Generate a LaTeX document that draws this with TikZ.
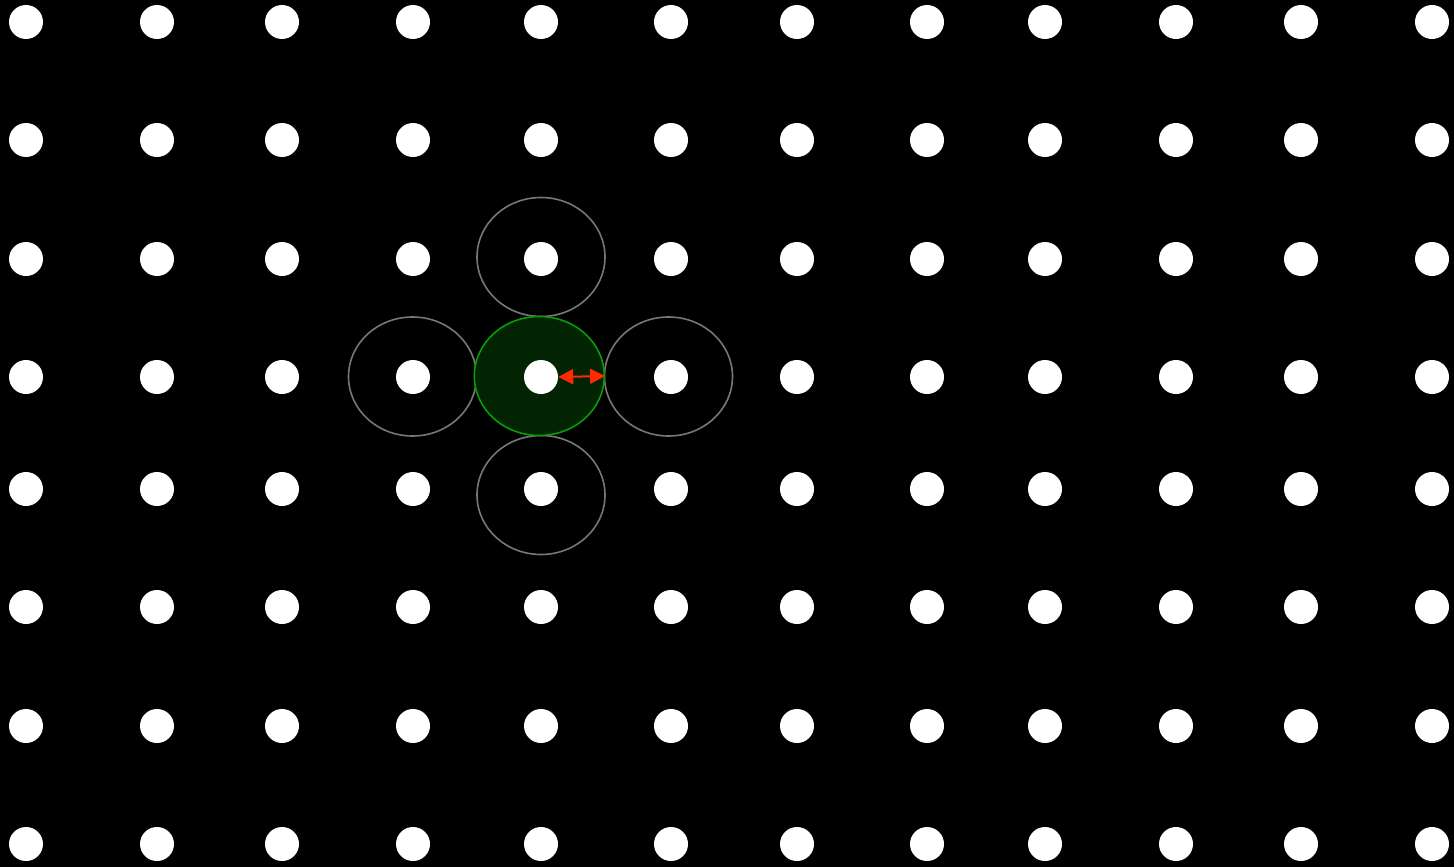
\documentclass[tikz,border=0pt]{standalone}
\usepackage{xcolor}
\usepackage{tikz}
\usetikzlibrary{arrows.meta,positioning,shapes.geometric,calc}
\definecolor{ringgray}{HTML}{777777}
\definecolor{ringgreen}{HTML}{0A9A0A}
\definecolor{cellfill}{HTML}{022402}
\definecolor{gapred}{HTML}{FF2A00}

\begin{document}
\begin{tikzpicture}[
          x=1pt, y=-1pt,
          dot/.style={circle, fill=white, minimum size=34pt, inner sep=0pt},
          ring/.style={ellipse, draw=ringgray, line width=1.6pt,
                       minimum width=128pt, minimum height=119pt, inner sep=0pt},
          cell/.style={ring, draw=ringgreen, fill=cellfill, minimum width=130pt},
          gap/.style={{Triangle[length=15pt,width=15pt]}-{Triangle[length=15pt,width=15pt]},
                      draw=gapred, fill=gapred, line width=2pt}
      ]
        \fill[black] (0,0) rectangle (1454,867);
        \useasboundingbox (0,0) rectangle (1454,867);

        % neighbour rings and the green cell
        \node[ring] (top)    at (541,257) {};
        \node[ring] (left)   at (412.5,376.5) {};
        \node[ring] (right)  at (668.5,376.5) {};
        \node[ring] (bottom) at (541,495) {};
        \node[cell] (centre) at (539.3,376) {};

        % lattice of dots
        \foreach \x [count=\i] in {26,157,282,413,541,671,797,927,1045,1176,1301,1432}
          \foreach \y [count=\j] in {22,140,259,377,489,607,726,844}
            \node[dot] (d-\i-\j) at (\x,\y) {};

        \coordinate (rim) at (centre.east);
        \draw[gap] (d-5-4.east) -- (rim);
      \end{tikzpicture}
\end{document}
